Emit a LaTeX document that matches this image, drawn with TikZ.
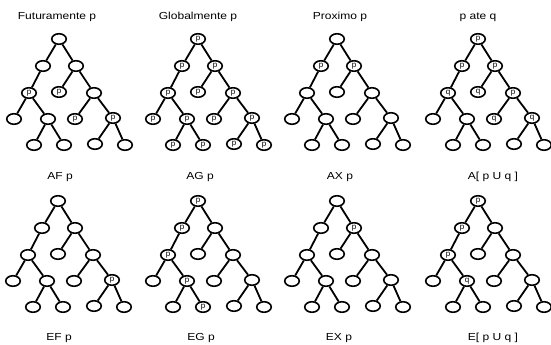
\documentclass[tikz,border=0pt]{standalone}
\usepackage{fontspec}
\usepackage{graphicx}
\setmainfont{Liberation Sans}
\usetikzlibrary{shapes.geometric}

% stretched caption text
\newcommand\widetxt[1]{\scalebox{1.18}[1]{#1}}

\tikzset{
  st/.style={ellipse, draw, line width=1.6pt, minimum width=14.5pt, minimum height=10.5pt,
             inner sep=0pt, font=\fontsize{8}{8}\selectfont},
  edge/.style={line width=1.8pt},
  caption/.style={anchor=base, inner sep=0pt, font=\fontsize{10.2}{12}\selectfont}
}

% one computation tree: #1 name, #2/#3 root position, #4 list node/label
\newcommand\ctltree[4]{%
  \foreach \k/\v in {#4} {\expandafter\xdef\csname lb#1\k\endcsname{\v}}%
  \begin{scope}[shift={(#2,#3)}]
    \foreach \n/\px/\py in {r/0/0, A/-16/27, B/17/27, C/-30/54, D/0/53, E/35/54,
                            F/-45/80, G/-11/80, H/16/80, I/54/79,
                            J/-25/106, K/5/106, L/36/105, M/66/106}
      \node[st] (#1\n) at (\px,\py) {\csname lb#1\n\endcsname};
    \foreach \a/\b in {r/A, r/B, A/C, B/D, B/E, C/F, C/G, E/H, E/I, G/J, G/K, I/L, I/M}
      \draw[edge] (#1\a) -- (#1\b);
  \end{scope}}

\begin{document}
\begin{tikzpicture}[x=1pt, y=-1pt]
  \useasboundingbox (0,0) rectangle (551,345);

  % top row
  \ctltree{ta}{59}{39}{C/p, D/p, H/p, I/p}
  \ctltree{tb}{198}{39}{r/p, A/p, B/p, C/p, D/p, E/p, F/p, G/p, H/p, I/p, J/p, K/p, L/p, M/p}
  \ctltree{tc}{337}{39}{A/p, B/p}
  \ctltree{td}{478}{39}{r/p, A/p, B/p, C/q, D/q, E/p, H/q, I/q}

  % bottom row
  \ctltree{te}{58}{201}{I/p}
  \ctltree{tf}{198}{201}{r/p, A/p, C/p, G/p, K/p}
  \ctltree{tg}{337}{201}{B/p}
  \ctltree{th}{478}{201}{r/p, A/p, C/p, G/q}

  % captions
  \node[caption] (ca) at (57,19.5)  {\widetxt{Futuramente p}};
  \node[caption] (cb) at (198,19.5) {\widetxt{Globalmente p}};
  \node[caption] (cc) at (340,19.5) {\widetxt{Proximo p}};
  \node[caption] (cd) at (478,19.5) {\widetxt{p ate q}};

  \node[caption] (ce) at (60,179) {\widetxt{AF p}};
  \node[caption] (cf) at (200,179) {\widetxt{AG p}};
  \node[caption] (cg) at (340,179) {\widetxt{AX p}};
  \node[caption] (ch) at (493,179) {\widetxt{A[ p U q ]}};

  \node[caption] (ci) at (59,340) {\widetxt{EF p}};
  \node[caption] (cj) at (201,340) {\widetxt{EG p}};
  \node[caption] (ck) at (339,340) {\widetxt{EX p}};
  \node[caption] (cl) at (493,340) {\widetxt{E[ p U q ]}};
\end{tikzpicture}
\end{document}
